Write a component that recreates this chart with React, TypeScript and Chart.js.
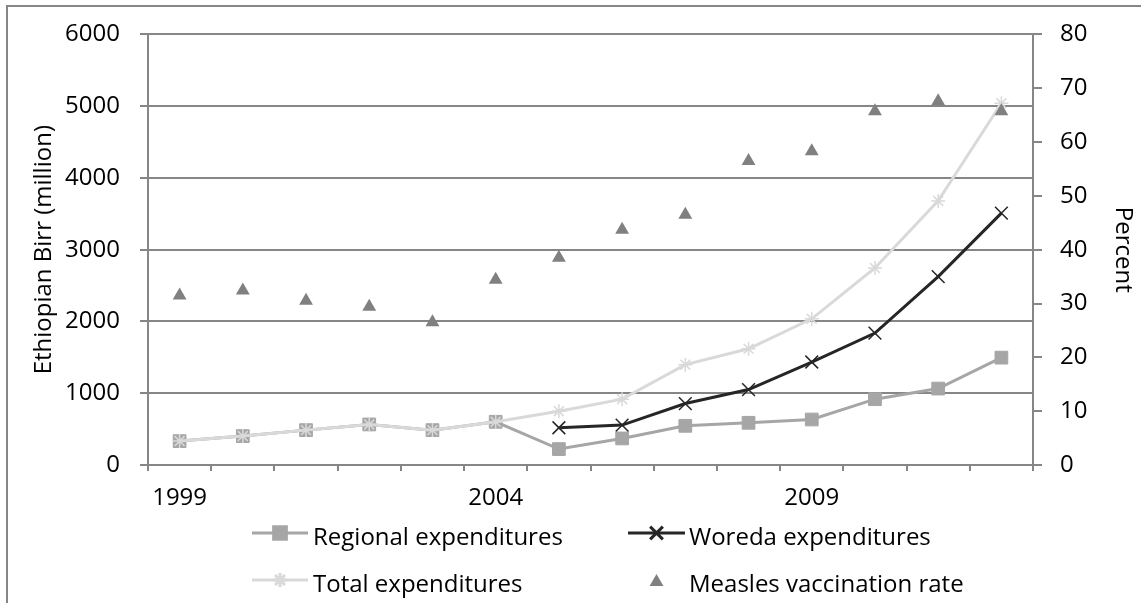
import React, { useEffect, useRef } from 'react';
import { Chart, registerables } from 'chart.js';
import { drawPoint } from 'chart.js/helpers';

Chart.register(...registerables);

const years = ['1999', '2000', '2001', '2002', '2003', '2004', '2005', '2006', '2007', '2008', '2009', '2010', '2011', '2012'];
const xTickLabels = ['1999', '2004', '2009'];
const regional = [333, 403, 486, 565, 486, 602, 222, 370, 546, 588, 634, 917, 1065, 1496];
const woreda = [null, null, null, null, null, null, 519, 556, 856, 1051, 1435, 1838, 2625, 3509];
const total = [333, 403, 486, 565, 486, 602, 750, 917, 1398, 1620, 2037, 2745, 3680, 5040];
const measles = [31.5, 32.4, 30.5, 29.4, 26.5, 34.4, 38.5, 43.7, 46.5, 56.5, 58.3, 65.7, 67.6, 65.7];

const FONT = '"Open Sans", "Noto Sans", sans-serif';
const FS = 24;
const GRID = '#868686';

const W = 1141;
const H = 603;

const framePlugin = {
  id: 'frame',
  beforeDraw(chart: any) {
    const ctx = chart.ctx;
    ctx.save();
    ctx.strokeStyle = GRID;
    ctx.lineWidth = 2;
    ctx.strokeRect(7, 6, 3000, 3000);
    ctx.restore();
  },
};

const legendPlugin = {
  id: 'customLegend',
  afterDraw(chart: any) {
    const ctx = chart.ctx;
    const items = [
      { ds: 0, col: 0, row: 0 },
      { ds: 1, col: 1, row: 0 },
      { ds: 2, col: 0, row: 1 },
      { ds: 3, col: 1, row: 1 },
    ];
    const colIcon = [[252, 308], [628, 685]];
    const colText = [313, 689];
    const rowIconY = [533, 580];
    const rowTextY = [545, 592];
    ctx.save();
    items.forEach((it) => {
      const ds = chart.data.datasets[it.ds];
      const [x0, x1] = colIcon[it.col];
      const y = rowIconY[it.row];
      if (ds.showLine !== false) {
        ctx.strokeStyle = ds.borderColor;
        ctx.lineWidth = ds.borderWidth;
        ctx.beginPath();
        ctx.moveTo(x0, y);
        ctx.lineTo(x1, y);
        ctx.stroke();
      }
      ctx.fillStyle = ds.pointBackgroundColor;
      ctx.strokeStyle = ds.pointBorderColor;
      drawPoint(ctx, {
        pointStyle: ds.pointStyle,
        radius: ds.pointRadius,
        rotation: 0,
        borderWidth: ds.pointBorderWidth,
      } as any, (x0 + x1) / 2, y + (ds.pointStyle === 'triangle' ? 2 : 0));
      ctx.fillStyle = '#000';
      ctx.font = `${FS}px ${FONT}`;
      ctx.textBaseline = 'alphabetic';
      ctx.textAlign = 'left';
      ctx.fillText(ds.label, colText[it.col], rowTextY[it.row]);
    });
    ctx.restore();
  },
};

export default function App() {
  const ref = useRef<HTMLCanvasElement | null>(null);

  useEffect(() => {
    if (!ref.current) return;
    const chart = new Chart(ref.current, {
      type: 'line',
      data: {
        labels: years,
        datasets: [
          {
            label: 'Regional expenditures',
            data: regional,
            borderColor: '#a6a6a6',
            backgroundColor: '#a6a6a6',
            borderWidth: 3,
            pointStyle: 'rect',
            pointRadius: 9,
            pointBackgroundColor: '#a6a6a6',
            pointBorderColor: '#a6a6a6',
            pointBorderWidth: 1,
            yAxisID: 'y',
            order: 3,
            tension: 0,
          } as any,
          {
            label: 'Woreda expenditures',
            data: woreda,
            borderColor: '#262626',
            backgroundColor: '#262626',
            borderWidth: 3,
            pointStyle: 'crossRot',
            pointRadius: 9,
            pointBackgroundColor: '#262626',
            pointBorderColor: '#262626',
            pointBorderWidth: 1.5,
            yAxisID: 'y',
            order: 2,
            spanGaps: false,
            tension: 0,
          },
          {
            label: 'Total expenditures',
            data: total,
            borderColor: '#d9d9d9',
            backgroundColor: '#d9d9d9',
            borderWidth: 3,
            pointStyle: 'star',
            pointRadius: 7,
            pointBackgroundColor: '#d9d9d9',
            pointBorderColor: '#d9d9d9',
            pointBorderWidth: 1.5,
            yAxisID: 'y',
            order: 1,
            tension: 0,
          },
          {
            label: 'Measles vaccination rate',
            data: measles,
            showLine: false,
            borderColor: '#808080',
            backgroundColor: '#808080',
            borderWidth: 0,
            pointStyle: 'triangle',
            pointRadius: 8,
            pointBackgroundColor: '#808080',
            pointBorderColor: '#808080',
            pointBorderWidth: 0,
            yAxisID: 'y1',
            order: 0,
          },
        ],
      },
      options: {
        animation: false,
        responsive: false,
        events: [],
        layout: { padding: { top: 33, bottom: 88, left: 0, right: 0 } },
        plugins: {
          legend: { display: false },
          tooltip: { enabled: false },
          title: { display: false },
        },
        scales: {
          x: {
            type: 'category',
            offset: true,
            grid: {
              offset: true,
              drawOnChartArea: false,
              drawTicks: true,
              tickLength: 6,
              color: GRID,
              lineWidth: 2,
            },
            border: { display: true, color: GRID, width: 2 },
            ticks: {
              autoSkip: false,
              maxRotation: 0,
              minRotation: 0,
              padding: 13,
              color: '#000',
              font: { family: FONT, size: FS },
              callback: (_v: any, i: number) => (xTickLabels.includes(years[i]) ? years[i] : ''),
            },
            afterFit: (s: any) => { s.height = 50; },
          },
          y: {
            position: 'left',
            min: 0,
            max: 6000,
            grid: { color: GRID, lineWidth: 2, tickLength: 8, drawTicks: true },
            border: { display: true, color: GRID, width: 2 },
            ticks: {
              stepSize: 1000,
              padding: 20,
              color: '#000',
              font: { family: FONT, size: FS },
              callback: (v: any) => String(v),
            },
            title: {
              display: true,
              text: 'Ethiopian Birr (million)',
              color: '#000',
              font: { family: FONT, size: FS },
              padding: { top: 30, bottom: 0 },
            },
            afterFit: (s: any) => { s.width = 148; },
          },
          y1: {
            position: 'right',
            min: 0,
            max: 80,
            grid: { drawOnChartArea: false, color: GRID, lineWidth: 2, tickLength: 9, drawTicks: true },
            border: { display: true, color: GRID, width: 2 },
            ticks: {
              stepSize: 10,
              padding: 18,
              color: '#000',
              font: { family: FONT, size: FS },
              callback: (v: any) => String(v),
            },
            title: {
              display: true,
              text: 'Percent',
              color: '#000',
              font: { family: FONT, size: FS },
              padding: { top: 4, bottom: 0 },
            },
            afterFit: (s: any) => { s.width = W - 1033; },
          },
        },
      },
      plugins: [framePlugin, legendPlugin],
    });
    return () => chart.destroy();
  }, []);

  return (
    <div style={{ position: 'fixed', left: 0, top: 0, width: W, height: H, overflow: 'hidden', background: '#fff' }}>
      <canvas ref={ref} width={W} height={H} style={{ display: 'block', width: W, height: H }} />
    </div>
  );
}
